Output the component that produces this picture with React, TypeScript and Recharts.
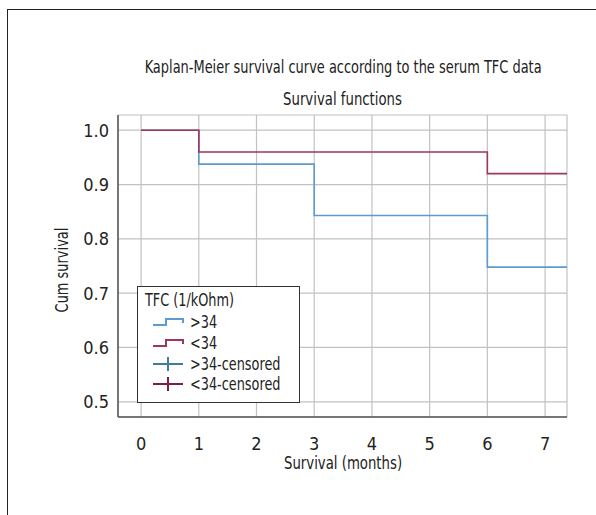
import React from 'react';
import { LineChart, Line, XAxis, YAxis, CartesianGrid } from 'recharts';

// Kaplan-Meier step data (time in months, cumulative survival)
const highTimes = [0, 1, 3, 6, 7.38];
const highSurv = [1.0, 0.9375, 0.843, 0.748, 0.748];
const lowTimes = [0, 1, 6, 7.38];
const lowSurv = [1.0, 0.96, 0.92, 0.92];

const xTicks = [0, 1, 2, 3, 4, 5, 6, 7];
const yTicks = [0.5, 0.6, 0.7, 0.8, 0.9, 1.0];

const legendItems = [
  { label: '>34', color: '#5b9bd5', kind: 'step' },
  { label: '<34', color: '#a3355c', kind: 'step' },
  { label: '>34-censored', color: '#3f7c9e', kind: 'cross' },
  { label: '<34-censored', color: '#7c1f44', kind: 'cross' }
];

const FONT = "'DejaVu Sans Condensed', 'DejaVu Sans', sans-serif";

const highData = highTimes.map((t, i) => ({ t, s: highSurv[i] }));
const lowData = lowTimes.map((t, i) => ({ t, s: lowSurv[i] }));

// narrow text look: regular font squeezed horizontally
const Narrow: React.FC<{ children: React.ReactNode; scale?: number }> = ({ children, scale = 0.8 }) => (
  <span style={{ display: 'inline-block', transform: `scaleX(${scale})`, whiteSpace: 'nowrap' }}>
    {children}
  </span>
);

const LegendIcon: React.FC<{ color: string; kind: string }> = ({ color, kind }) => (
  <svg width={34} height={14} style={{ marginRight: 4 }}>
    {kind === 'step' ? (
      <polyline
        points="1,10 14,10 14,4 31,4 31,8"
        fill="none"
        stroke={color}
        strokeWidth={2}
      />
    ) : (
      <g stroke={color} strokeWidth={2}>
        <line x1={1} y1={7} x2={31} y2={7} />
        <line x1={16} y1={0} x2={16} y2={14} />
      </g>
    )}
  </svg>
);

const centered = (top: number): React.CSSProperties => ({
  position: 'absolute',
  left: 0,
  width: 686,
  top,
  textAlign: 'center',
  fontSize: 18,
  color: '#222'
});

const App: React.FC = () => {
  return (
    <div
      style={{
        position: 'absolute',
        left: 0,
        top: 0,
        width: 596,
        height: 515,
        background: '#fff',
        overflow: 'hidden',
        fontFamily: FONT
      }}
    >
      {/* outer frame, open on the right and bottom */}
      <div
        style={{
          position: 'absolute',
          left: 7,
          top: 9,
          width: 620,
          height: 540,
          border: '1.5px solid #222'
        }}
      />
      <div style={centered(56)}>
        <Narrow scale={0.8}>Kaplan-Meier survival curve according to the serum TFC data</Narrow>
      </div>
      <div style={centered(88)}>
        <Narrow scale={0.82}>Survival functions</Narrow>
      </div>

      <div style={{ position: 'absolute', left: 0, top: 0 }}>
        <LineChart
          width={596}
          height={515}
          margin={{ top: 115, right: 29, left: 58, bottom: 50 }}
        >
          <CartesianGrid stroke="#c2c2c2" strokeWidth={1.2} />
          <XAxis
            dataKey="t"
            type="number"
            domain={[-0.4, 7.38]}
            ticks={xTicks}
            allowDataOverflow
            axisLine={{ stroke: '#555', strokeWidth: 1.5 }}
            tickLine={false}
            tickMargin={14}
            height={48}
            tick={{ fill: '#222', fontSize: 18, fontFamily: FONT }}
          />
          <YAxis
            type="number"
            domain={[0.472, 1.028]}
            ticks={yTicks}
            allowDataOverflow
            width={60}
            axisLine={{ stroke: '#555', strokeWidth: 1.5 }}
            tickLine={false}
            tickMargin={3}
            tickFormatter={(v: number) => v.toFixed(1)}
            tick={{ fill: '#222', fontSize: 18, fontFamily: FONT }}
          />
          <Line
            data={highData}
            dataKey="s"
            type="stepAfter"
            stroke="#5b9bd5"
            strokeWidth={1.6}
            dot={false}
            isAnimationActive={false}
          />
          <Line
            data={lowData}
            dataKey="s"
            type="stepAfter"
            stroke="#a3355c"
            strokeWidth={1.6}
            dot={false}
            isAnimationActive={false}
          />
        </LineChart>
      </div>

      {/* axis titles */}
      <div style={centered(452)}>
        <Narrow scale={0.82}>Survival (months)</Narrow>
      </div>
      <div
        style={{
          position: 'absolute',
          left: 62 - 80,
          top: 270 - 11,
          width: 160,
          height: 22,
          textAlign: 'center',
          fontSize: 18,
          lineHeight: '22px',
          color: '#222',
          transform: 'rotate(-90deg)'
        }}
      >
        <Narrow scale={0.8}>Cum survival</Narrow>
      </div>

      {/* legend box */}
      <div
        style={{
          position: 'absolute',
          left: 137,
          top: 286,
          width: 163,
          height: 117,
          border: '1.2px solid #333',
          background: '#fff',
          boxSizing: 'border-box',
          padding: '3px 0 0 7px',
          color: '#222',
          fontSize: 17,
          lineHeight: '20px'
        }}
      >
        <div style={{ marginBottom: 2, transform: 'scaleX(0.84)', transformOrigin: 'left center', whiteSpace: 'nowrap' }}>
          TFC (1/kOhm)
        </div>
        {legendItems.map((item) => (
          <div
            key={item.label}
            style={{ display: 'flex', alignItems: 'center', paddingLeft: 7, height: 20.7 }}
          >
            <LegendIcon color={item.color} kind={item.kind} />
            <span style={{ transform: 'scaleX(0.84)', transformOrigin: 'left center', whiteSpace: 'nowrap' }}>
              {item.label}
            </span>
          </div>
        ))}
      </div>
    </div>
  );
};

export default App;
